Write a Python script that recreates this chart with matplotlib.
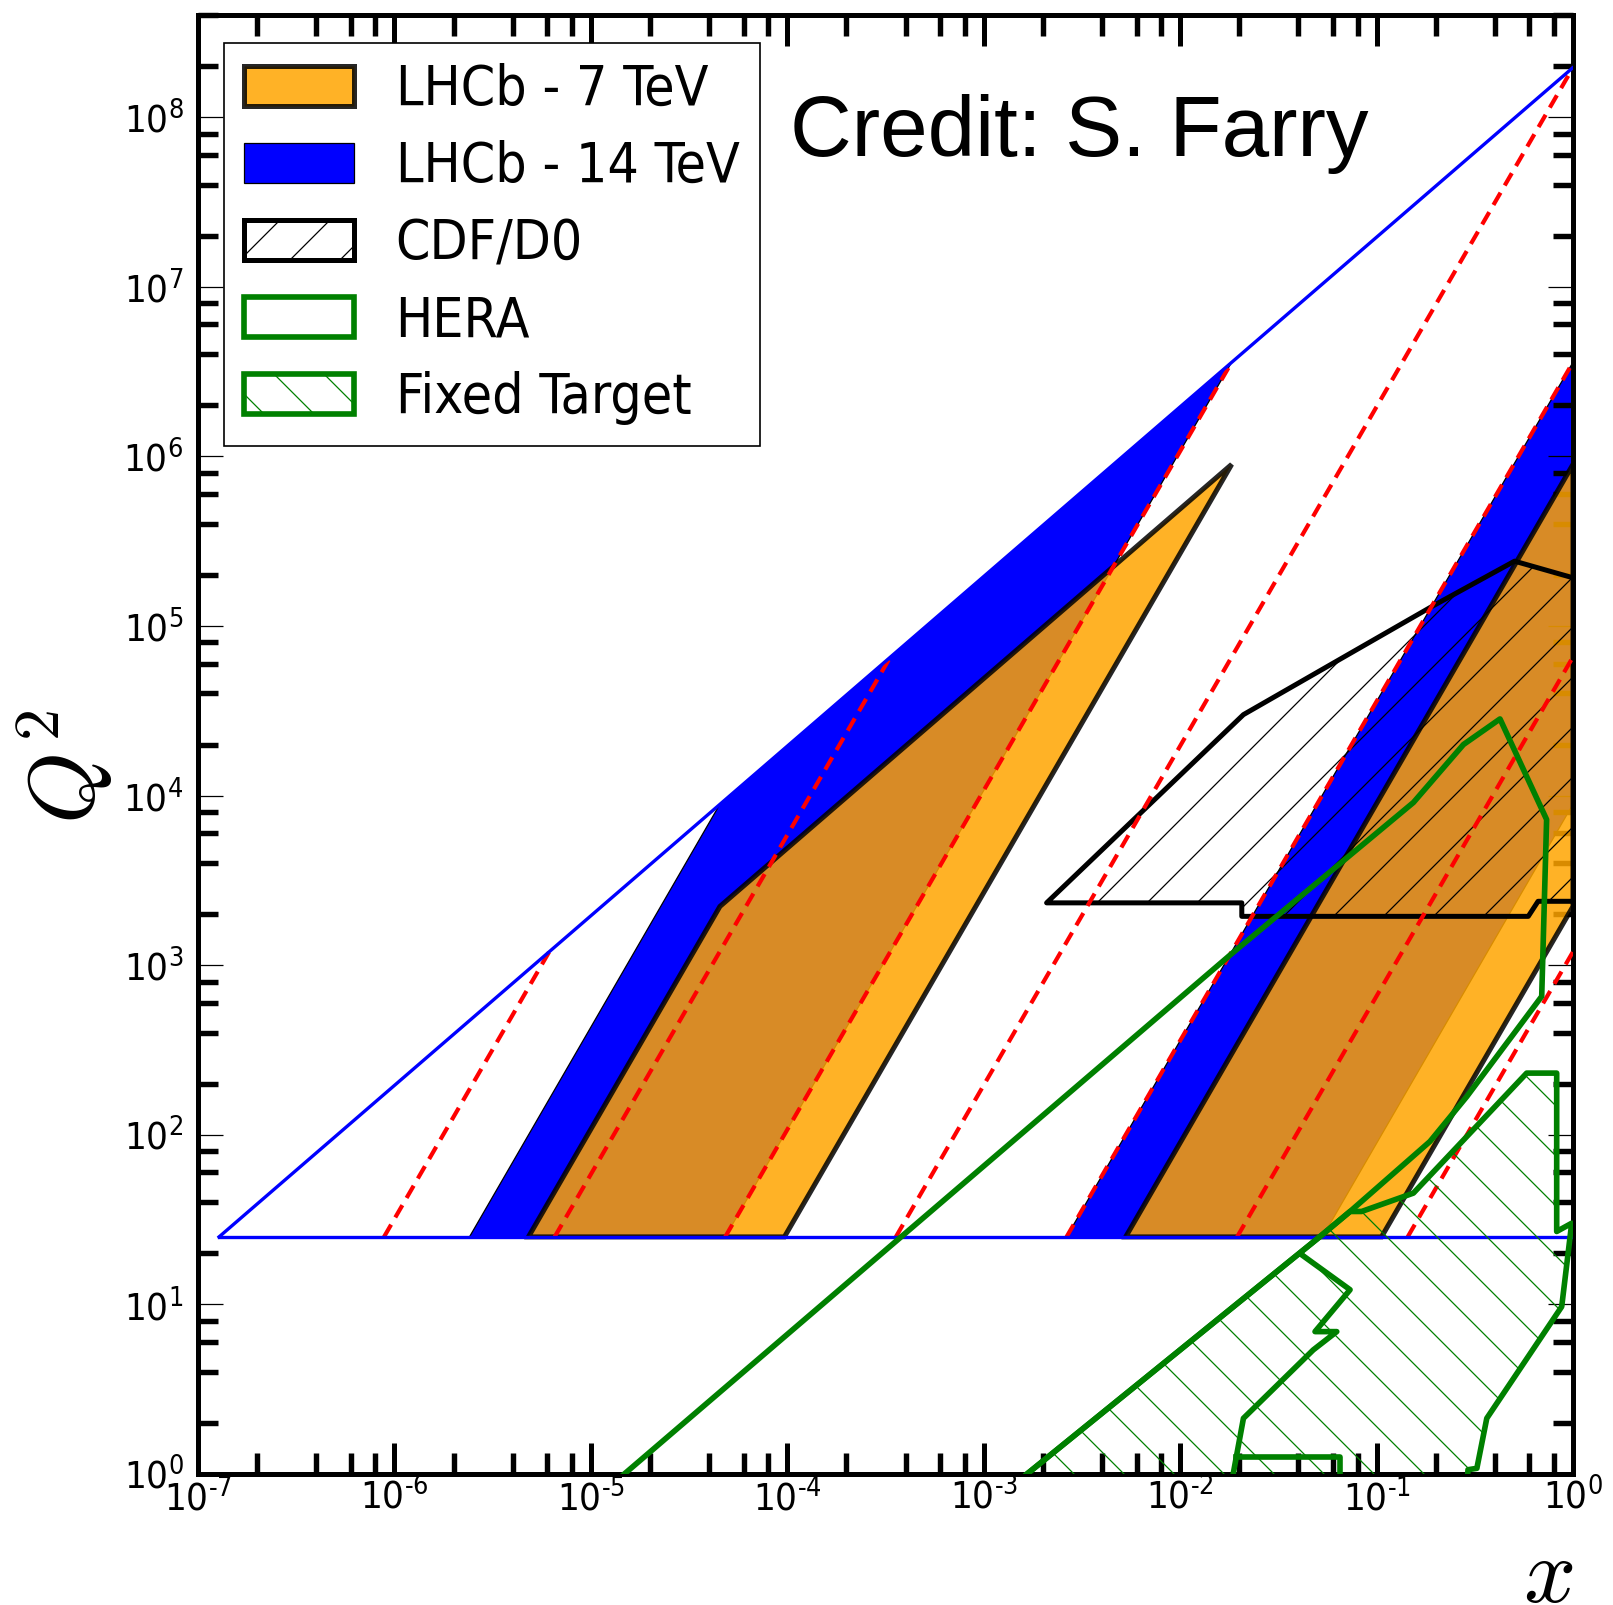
import numpy as np
import matplotlib.pyplot as plt
from matplotlib.patches import Polygon
from matplotlib.ticker import LogLocator, FuncFormatter, NullFormatter

plt.rcParams['font.family'] = ['DejaVu Sans Condensed', 'DejaVu Sans']
plt.rcParams['font.stretch'] = 'condensed'
plt.rcParams['hatch.linewidth'] = 0.3

# -------- data (x, Q^2 in GeV^2) --------

# LHCb acceptance, 14 TeV: small-x and large-x parton
lhcb14_lowx_x = [2.41e-6, 4.54e-5, 1.83e-2, 4.83e-5]
lhcb14_lowx_q2 = [25, 8.9e3, 3.59e6, 25]
lhcb14_highx_x = [2.64e-3, 1.0, 1.0, 5.3e-2]
lhcb14_highx_q2 = [25, 3.59e6, 8.9e3, 25]

# LHCb acceptance, 7 TeV
lhcb7_lowx_x = [4.81e-6, 4.54e-5, 1.83e-2, 9.67e-5]
lhcb7_lowx_q2 = [25, 2.22e3, 8.97e5, 25]
lhcb7_highx_x = [5.28e-3, 1.0, 1.0, 0.106]
lhcb7_highx_q2 = [25, 8.97e5, 2.22e3, 25]

# Tevatron (CDF/D0)
cdf_x = [2.09e-3, 2.06e-2, 2.06e-2, 0.592, 0.664, 2.0, 2.0, 0.504, 0.193, 2.1e-2]
cdf_q2 = [2330, 2330, 1940, 1940, 2380, 2380, 1.53e5, 2.41e5, 1.31e5, 3.0e4]

# HERA
hera_x = [7.4e-6, 1.48e-5, 1.8e-2, 0.154, 0.277, 0.425, 0.734, 0.693,
          0.288, 0.187, 0.0733, 0.0515, 1.66e-3, 7.8e-4]
hera_q2 = [0.5, 1.0, 1.15e3, 9.1e3, 2.0e4, 2.83e4, 7.22e3, 655,
           168, 91.3, 35.3, 25.1, 1.0, 0.47]

# fixed target experiments
ft_x = [7.8e-4, 1.66e-3, 0.0515, 0.0733, 0.0839, 0.154, 0.581, 0.826,
        0.826, 0.985, 0.876, 0.364, 0.324, 0.292, 0.28]
ft_q2 = [0.47, 1.0, 25.1, 35.3, 35.3, 45.3, 231, 231,
         26.9, 30.1, 9.7, 2.13, 1.08, 1.06, 0.47]
ft_inner_x = [0.0416, 0.0733, 0.0486, 0.0627, 0.0476, 0.021, 0.01865, 0.0175]
ft_inner_q2 = [19.6, 12.2, 6.91, 6.91, 5.39, 2.13, 1.01, 0.5]
ft_box_x = [0.0192, 0.0652, 0.0652]
ft_box_q2 = [1.265, 1.265, 0.5]

# constant rapidity lines at 14 TeV (y = 6, 4, 2, 0, -2, -4, -6)
q2_min = 25
rap_x_start = [8.85e-7, 6.54e-6, 4.83e-5, 3.57e-4, 2.64e-3, 1.95e-2, 0.144]
rap_x_end = [6.14e-6, 3.35e-4, 1.83e-2, 1.0, 1.0, 1.0, 1.0]
rap_q2_end = [1.2e3, 6.57e4, 3.59e6, 1.96e8, 3.59e6, 6.57e4, 1.2e3]

# kinematic limit at 14 TeV
limit_x = [1.28e-7, 1.0]
limit_q2 = [25, 1.96e8]


def poly(x, q2, **kw):
    return Polygon(np.column_stack([x, q2]), closed=True, **kw)


def decade_label(v, pos):
    e = int(round(np.log10(v)))
    return r'$\mathregular{10^{%s}}$' % str(e).replace('-', '\u2010')


# -------- plotting --------

fig = plt.figure(figsize=(1613 / 300, 1605 / 300), dpi=300)
ax = fig.add_axes([0.12275, 0.08162, 0.85245, 0.90903])
ax.set_xscale('log')
ax.set_yscale('log')
ax.set_xlim(1e-7, 1)
ax.set_ylim(1, 4e8)

blue_kw = dict(facecolor='blue', edgecolor='black', lw=0.3, zorder=1)
b14 = ax.add_patch(poly(lhcb14_lowx_x, lhcb14_lowx_q2, label='LHCb - 14 TeV', **blue_kw))
ax.add_patch(poly(lhcb14_highx_x, lhcb14_highx_q2, **blue_kw))

orange_kw = dict(facecolor='orange', edgecolor='black', lw=1.2, alpha=0.85, zorder=2)
o7 = ax.add_patch(poly(lhcb7_lowx_x, lhcb7_lowx_q2, label='LHCb - 7 TeV', **orange_kw))
ax.add_patch(poly(lhcb7_highx_x, lhcb7_highx_q2, **orange_kw))

cdf = ax.add_patch(poly(cdf_x, cdf_q2, facecolor='none', edgecolor='black', hatch='//',
                        lw=1.2, joinstyle='round', zorder=3, label='CDF/D0'))

for x0, x1, q1 in zip(rap_x_start, rap_x_end, rap_q2_end):
    ax.plot([x0, x1], [q2_min, q1], color='red', lw=1.0, ls=(0, (3.4, 2.0)), zorder=4)

ax.plot(limit_x, limit_q2, color='blue', lw=0.8, zorder=5)
ax.plot([limit_x[0], 1.0], [q2_min, q2_min], color='blue', lw=0.8, zorder=5)

hera = ax.add_patch(poly(hera_x, hera_q2, facecolor='none', edgecolor='green',
                         lw=1.35, joinstyle='round', zorder=6, label='HERA'))
ft = ax.add_patch(poly(ft_x, ft_q2, facecolor='none', edgecolor='green', hatch='\\\\',
                       lw=1.35, joinstyle='round', zorder=6, label='Fixed Target'))
ax.plot(ft_inner_x, ft_inner_q2, color='green', lw=1.35, solid_joinstyle='round', zorder=6)
ax.plot(ft_box_x, ft_box_q2, color='green', lw=1.35, solid_joinstyle='round', zorder=6)

# axes styling
for sp in ax.spines.values():
    sp.set_linewidth(1.2)

for axis in (ax.xaxis, ax.yaxis):
    axis.set_major_locator(LogLocator(base=10, numticks=20))
    axis.set_minor_locator(LogLocator(base=10, subs=[2, 4, 6, 8], numticks=20))
    axis.set_major_formatter(FuncFormatter(decade_label))
    axis.set_minor_formatter(NullFormatter())

ax.tick_params(which='both', direction='in', top=True, right=True, labelsize=9.2)
ax.tick_params(axis='x', which='major', length=7.5, width=1.2, pad=1)
ax.tick_params(axis='x', which='minor', length=5, width=1.3)
ax.tick_params(axis='y', which='major', length=6, width=0.3, pad=3.5)
ax.tick_params(axis='y', which='minor', length=4.8, width=1.3)

ax.set_ylabel(r'$Q^2$', fontsize=22, math_fontfamily='cm')
ax.yaxis.set_label_coords(-0.06, 0.485)
ax.set_xlabel(r'$x$', fontsize=22, math_fontfamily='cm', ha='right')
ax.xaxis.set_label_coords(1.0, -0.039)

ax.text(0.4305, 0.9034, 'Credit: S. Farry', transform=ax.transAxes,
        fontsize=20.5, family='Liberation Sans', va='baseline', ha='left', zorder=7)

leg = ax.legend(handles=[o7, b14, cdf, hera, ft], loc='upper left',
                bbox_to_anchor=(0.0189, 0.981), borderaxespad=0, fontsize=13.2,
                handlelength=2.0, handleheight=0.74, handletextpad=0.75,
                borderpad=0.37, labelspacing=0.42, fancybox=False, framealpha=1)
leg.get_frame().set_edgecolor('black')
leg.get_frame().set_linewidth(0.4)
leg.set_zorder(10)

fig.savefig('out.png', dpi=300)
